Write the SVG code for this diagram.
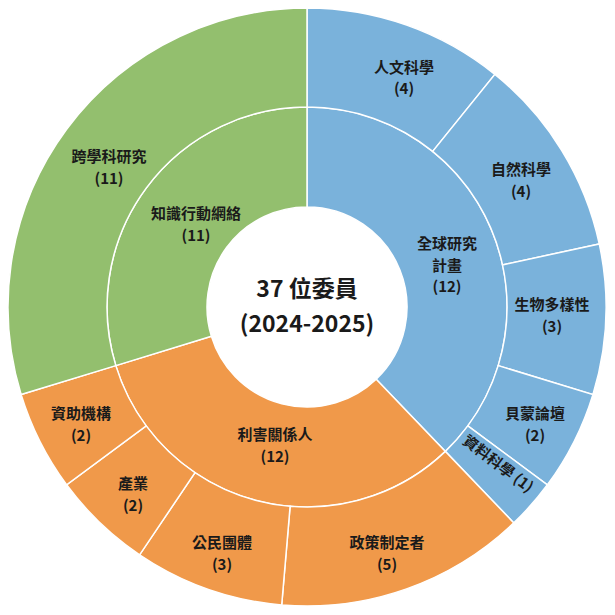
<svg xmlns="http://www.w3.org/2000/svg" width="615" height="615" viewBox="0 0 615 615">
<style>
.s{stroke:#fff;stroke-width:1.5}
.b{fill:#7AB2DB}.o{fill:#F0994A}.g{fill:#93BF6E}
text{font-family:"Noto Sans CJK TC","Noto Sans",sans-serif;font-weight:bold;font-size:15px;fill:#1a1a1a;text-anchor:middle}
.c{font-size:23px}
</style>
<rect width="615" height="615" fill="#fff"/>
<g id="inner">
<path id="n-global" class="s b" d="M307,107 A200,200 0 0 1 445.4,451.4 L376.2,379.2 A100,100 0 0 0 307,207 Z"/>
<path id="n-stake" class="s o" d="M445.4,451.4 A200,200 0 0 1 115.8,365.6 L211.4,336.3 A100,100 0 0 0 376.2,379.2 Z"/>
<path id="n-know" class="s g" d="M115.8,365.6 A200,200 0 0 1 307,107 L307,207 A100,100 0 0 0 211.4,336.3 Z"/>
</g>
<g id="outer">
<path id="n-hum" class="s b" d="M307,8 A299,299 0 0 1 494.9,74.4 L432.7,151.4 A200,200 0 0 0 307,107 Z"/>
<path id="n-nat" class="s b" d="M494.9,74.4 A299,299 0 0 1 599.3,244 L502.5,264.9 A200,200 0 0 0 432.7,151.4 Z"/>
<path id="n-bio" class="s b" d="M599.3,244 A299,299 0 0 1 592.9,394.6 L498.2,365.6 A200,200 0 0 0 502.5,264.9 Z"/>
<path id="n-bel" class="s b" d="M592.9,394.6 A299,299 0 0 1 547.4,484.8 L467.8,425.9 A200,200 0 0 0 498.2,365.6 Z"/>
<path id="n-data" class="s b" d="M547.4,484.8 A299,299 0 0 1 513.8,522.9 L445.4,451.4 A200,200 0 0 0 467.8,425.9 Z"/>
<path id="n-pol" class="s o" d="M513.8,522.9 A299,299 0 0 1 281.7,604.9 L290.1,506.3 A200,200 0 0 0 445.4,451.4 Z"/>
<path id="n-civ" class="s o" d="M281.7,604.9 A299,299 0 0 1 139.6,554.8 L195,472.7 A200,200 0 0 0 290.1,506.3 Z"/>
<path id="n-ind" class="s o" d="M139.6,554.8 A299,299 0 0 1 66.6,484.8 L146.2,425.9 A200,200 0 0 0 195,472.7 Z"/>
<path id="n-fund" class="s o" d="M66.6,484.8 A299,299 0 0 1 21.1,394.5 L115.8,365.6 A200,200 0 0 0 146.2,425.9 Z"/>
<path id="n-trans" class="s g" d="M21.1,394.5 A299,299 0 0 1 307,8 L307,107 A200,200 0 0 0 115.8,365.6 Z"/>
</g>
<g id="labels">
<text x="307" y="297" class="c">37 位委員</text>
<text x="307" y="332" class="c">(2024-2025)</text>
<text x="447" y="249">全球研究</text><text x="447" y="271">計畫</text><text x="447" y="292">(12)</text>
<text x="275" y="440">利害關係人</text><text x="275" y="462">(12)</text>
<text x="196" y="219">知識行動網絡</text><text x="196" y="241">(11)</text>
<text x="404" y="73">人文科學</text><text x="404" y="94">(4)</text>
<text x="521" y="175">自然科學</text><text x="521" y="197">(4)</text>
<text x="552" y="310">生物多樣性</text><text x="552" y="332">(3)</text>
<text x="535" y="419">貝蒙論壇</text><text x="535" y="441">(2)</text>
<text x="495" y="468" transform="rotate(37 495 468)">資料科學 (1)</text>
<text x="387" y="548">政策制定者</text><text x="387" y="570">(5)</text>
<text x="222" y="548">公民團體</text><text x="222" y="570">(3)</text>
<text x="133" y="489">產業</text><text x="133" y="511">(2)</text>
<text x="81" y="419">資助機構</text><text x="81" y="441">(2)</text>
<text x="109" y="162">跨學科研究</text><text x="109" y="184">(11)</text>
</g>
</svg>
